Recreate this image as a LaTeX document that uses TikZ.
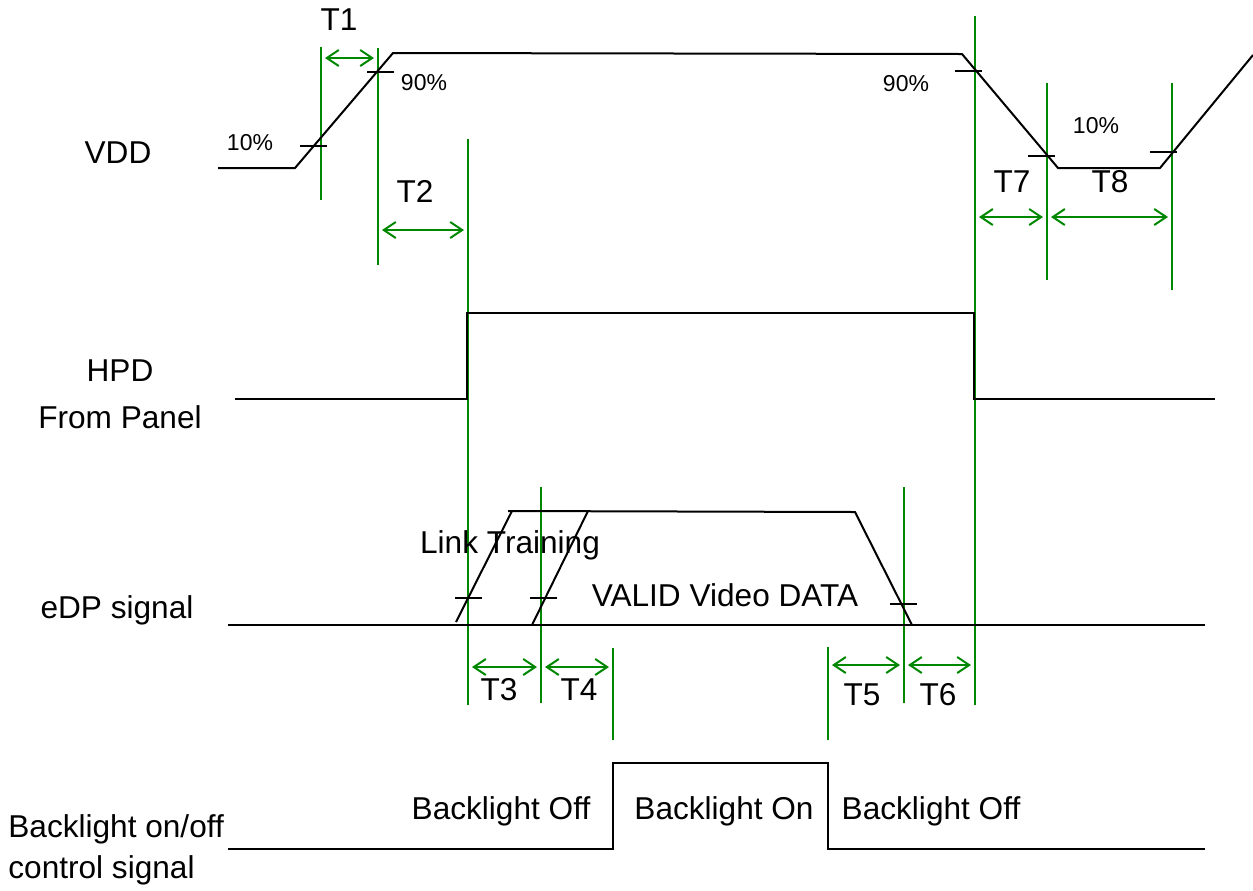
\documentclass[tikz,border=0pt]{standalone}
\usepackage{fontspec}
\setmainfont{Liberation Sans}
\usepackage{tikz}
\usetikzlibrary{calc}
\usetikzlibrary{arrows.meta}
\definecolor{guidegreen}{RGB}{0,135,0}

\begin{document}
\begin{tikzpicture}
		[
		x=0.5pt,y=-0.5pt,
		font=\fontsize{15.8}{18}\selectfont,
		signal/.style={draw,line width=1pt,line join=miter},
		]
		
		% Styles for guides, ticks and time arrows
		\tikzstyle{guide}=[draw=guidegreen,line width=0.7pt];
		\tikzstyle{tick}=[draw,line width=0.6pt];
		\tikzstyle{timearrow}=[draw=guidegreen,line width=1pt,{Straight Barb[length=6pt,width=8pt]}-{Straight Barb[length=6pt,width=8pt]},shorten <=2pt,shorten >=2pt];
		\tikzstyle{label}=[inner sep=0,anchor=base];
		\tikzstyle{pct}=[inner sep=0,anchor=base,font=\fontsize{11.5}{13}\selectfont];
		
		% Page size
		\useasboundingbox (0,0) rectangle (1253,890);
		
		% Guide lines
		\coordinate(g1)at(321,47);   \coordinate(g1e)at(321,200);
		\coordinate(g2)at(378,48);   \coordinate(g2e)at(378,265);
		\coordinate(g3)at(468,139);  \coordinate(g3e)at(468,705);
		\coordinate(g4)at(975,16);   \coordinate(g4e)at(975,705);
		\coordinate(g5)at(1047,83);  \coordinate(g5e)at(1047,280);
		\coordinate(g6)at(1172,83);  \coordinate(g6e)at(1172,290);
		\coordinate(g7)at(541,487);  \coordinate(g7e)at(541,703);
		\coordinate(g8)at(613,648);  \coordinate(g8e)at(613,740);
		\coordinate(g9)at(904,487);  \coordinate(g9e)at(904,703);
		\coordinate(g10)at(828,647); \coordinate(g10e)at(828,740);
		\foreach \g in {1,...,10} \draw[guide](g\g)--(g\g e);
		
		% The waveforms
		% VDD
		\draw[signal](218,168)--(295,168)--(393,53)--(962,54)--(1058,168)--(1160,168)--(1253,55);
		% HPD
		\draw[signal](235,399)--(467,399)--(467,313)--(974,313)--(974,399)--(1215,399);
		% eDP
		\draw[signal](228,625)--(1205,625);
		\draw[signal](456,622)--(512,511);
		\draw[signal](508,511)--(855,512)--(912,625);
		\draw[signal](532,625)--(588,511);
		% Backlight
		\draw[signal](228,849)--(613,849)--(613,763)--(828,763)--(828,849)--(1205,849);
		
		% Level ticks
		\foreach \x/\y in {313/146, 380/72, 968/71, 1041/156, 1163/152, 468/598, 543/598, 903/604}
		\draw[tick](\x-13,\y)--(\x+14,\y);
		
		% Time arrows
		\draw[timearrow](g1|-0,58)--(g2|-0,58);
		\draw[timearrow](g2|-0,230)--(g3|-0,230);
		\draw[timearrow](g4|-0,217)--(g5|-0,217);
		\draw[timearrow](g5|-0,217)--(g6|-0,217);
		\draw[timearrow](g3|-0,667)--(g7|-0,667);
		\draw[timearrow](g7|-0,667)--(g8|-0,667);
		\draw[timearrow](g10|-0,665)--(g9|-0,665);
		\draw[timearrow](g9|-0,665)--(g4|-0,665);
		
		% Time labels
		\node(t1)[label]at(339,30){T1};
		\node(t2)[label]at(415,202){T2};
		\node(t3)[label]at(499,700){T3};
		\node(t4)[label]at(579,700){T4};
		\node(t5)[label]at(862,705){T5};
		\node(t6)[label]at(938,705){T6};
		\node(t7)[label]at(1012,192){T7};
		\node(t8)[label]at(1110,192){T8};
		
		% Levels
		\node(p10a)[pct]at(250,150){10\%};
		\node(p90a)[pct]at(424,90){90\%};
		\node(p90b)[pct]at(906,91){90\%};
		\node(p10b)[pct]at(1096,133){10\%};
		
		% Signal names
		\node(vdd)[label]at(118,163){VDD};
		\node(hpd)[label]at(120,381){HPD};
		\node(panel)[label]at(120,428){From Panel};
		\node(edp)[label]at(117,618){eDP signal};
		\node(bl)[label,anchor=base west]at(8,837){Backlight on/off};
		\node(ctl)[label,anchor=base west]at(8,878){control signal};
		
		% Phases
		\node(link)[label]at(510,553){Link Training};
		\node(valid)[label]at(725,606){VALID Video DATA};
		\node(off1)[label]at(501,819){Backlight Off};
		\node(on)[label]at(724,819){Backlight On};
		\node(off2)[label]at(931,819){Backlight Off};
		\end{tikzpicture}
\end{document}
